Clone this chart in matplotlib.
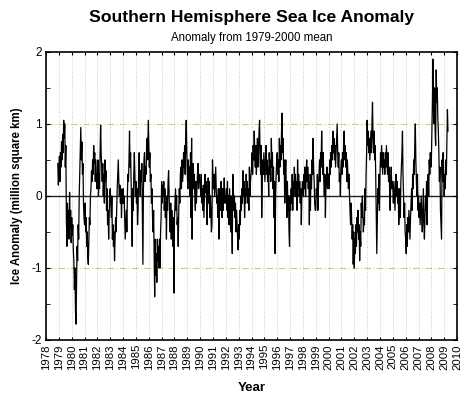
import numpy as np
import matplotlib
matplotlib.use("Agg")
import matplotlib.pyplot as plt

plt.rcParams["font.family"] = ["Liberation Sans", "DejaVu Sans"]

# half-monthly samples, first sample at Dec 1978
start_year = 1978.917
samples_per_year = 24

anomaly = [
    0.45, 0.15,  # 1978
    0.3, 0.55, 0.2, 0.6, 0.4, 0.75, 0.5, 0.85, 0.6, 1.05, 0.8, 1.0, 0.4, 0.7, -0.3, -0.7, -0.1, -0.55, -0.2, -0.6, 0.05, -0.45, -0.2, -0.65,  # 1979
    -0.3, -0.55, -0.4, -0.75, -0.9, -1.3, -1.0, -1.6, -1.78, -1.2, -0.7, -0.9, -0.4, -0.6, 0.0, 0.3, 0.6, 0.95, 0.5, 0.75, 0.3, 0.45, -0.1, -0.3,  # 1980
    -0.4, -0.1, -0.5, -0.3, -0.7, -0.5, -0.85, -0.95, -0.6, -0.3, -0.4, 0.0, 0.1, 0.35, 0.2, 0.5, 0.3, 0.7, 0.45, 0.6, 0.2, 0.5, 0.3, 0.1,  # 1981
    0.2, 0.5, 0.0, 0.3, 0.1, 0.6, 0.98, 0.6, 0.4, 0.2, 0.45, 0.0, 0.3, -0.1, 0.5, 0.2, 0.35, -0.2, 0.1, -0.4, -0.2, -0.6, -0.3, 0.05,  # 1982
    0.1, -0.1, -0.3, 0.0, -0.6, -0.4, -0.7, -0.5, -0.9, -0.6, -0.3, -0.5, -0.2, 0.1, 0.3, 0.5, 0.2, 0.0, 0.15, -0.1, 0.1, -0.3, 0.05, -0.1,  # 1983
    0.1, -0.1, 0.0, -0.3, -0.6, -0.4, -0.2, -0.5, 0.0, 0.3, 0.2, 0.5, 0.9, 0.4, 0.6, 0.2, -0.2, -0.7, 0.1, -0.2, 0.3, 0.6, 0.3, 0.0,  # 1984
    0.2, -0.1, 0.1, -0.4, -0.2, 0.3, 0.6, 0.3, 0.0, 0.35, 0.2, 0.45, -0.3, -0.95, 0.1, 0.5, 0.6, 0.2, 0.4, 0.3, 0.7, 0.8, 0.5, 1.05,  # 1985
    0.7, 0.4, 0.6, 0.2, 0.3, -0.1, 0.1, -0.3, -0.5, -0.2, -0.8, -1.4, -0.6, -1.1, -0.8, -1.2, -0.6, -0.9, -0.7, -1.0, -0.6, -1.0, -0.5, -0.3,  # 1986
    0.2, -0.1, 0.15, 0.0, 0.2, -0.2, 0.1, -0.3, -0.1, -0.6, 0.0, -0.2, 0.2, 0.35, 0.0, -0.3, -0.5, -0.1, -0.6, -0.2, -0.5, -0.7, -0.3, -1.35,  # 1987
    -0.3, -0.1, 0.1, -0.2, 0.0, -0.4, -0.3, -0.7, -0.2, 0.1, -0.1, 0.3, 0.4, 0.1, 0.5, 0.2, 0.3, 0.6, 0.4, 0.7, 0.3, 0.8, 1.05, 0.6,  # 1988
    0.3, 0.1, 0.5, 0.2, 0.4, 0.0, 0.6, -0.3, 0.8, -0.6, 0.3, 0.45, 0.1, 0.3, 0.0, -0.2, 0.2, -0.1, 0.1, 0.3, 0.45, 0.1, 0.3, 0.2,  # 1989
    0.2, 0.0, 0.3, -0.1, 0.1, -0.2, 0.15, -0.3, 0.0, 0.3, 0.05, 0.2, -0.1, -0.4, 0.0, 0.25, -0.1, 0.2, -0.3, 0.0, -0.2, -0.5, -0.4, 0.5,  # 1990
    0.2, 0.1, 0.3, 0.0, 0.2, 0.4, 0.1, -0.1, 0.0, -0.3, 0.1, -0.6, 0.0, 0.1, -0.2, 0.2, 0.0, -0.3, 0.1, -0.2, 0.0, 0.25, -0.1, 0.0,  # 1991
    -0.1, 0.1, -0.2, 0.2, -0.3, 0.0, -0.4, 0.1, -0.2, -0.5, 0.0, -0.3, -0.8, 0.3, 0.1, -0.2, 0.0, -0.3, -0.1, -0.5, -0.2, -0.4, -0.6, -0.75,  # 1992
    -0.4, -0.6, -0.2, -0.4, 0.0, -0.2, 0.1, -0.1, 0.35, 0.0, 0.2, -0.3, 0.1, -0.1, 0.3, 0.0, 0.2, -0.1, 0.1, -0.2, 0.4, 0.0, 0.2, 0.3,  # 1993
    0.4, 0.6, 0.3, 0.7, 0.5, 0.9, 0.6, 0.4, 0.7, 0.3, 0.5, 0.8, 0.4, 0.6, 0.9, 1.05, 0.5, 0.3, 0.7, -0.3, 0.2, 0.5, 0.3, 0.6,  # 1994
    0.4, 0.2, 0.5, 0.7, 0.3, 0.5, 0.2, 0.4, 0.0, 0.6, 0.3, 0.5, 0.2, 0.8, 0.4, 0.6, 0.1, 0.4, -0.3, 0.2, -0.8, 0.0, 0.3, 0.5,  # 1995
    0.6, 0.3, 0.5, 0.2, 0.8, 0.4, 0.7, 0.5, 0.9, 1.15, 0.6, 0.8, 0.3, 0.5, -0.1, 0.3, 0.5, 0.1, -0.3, 0.2, -0.2, 0.0, -0.5, -0.7,  # 1996
    0.0, -0.2, 0.1, -0.1, 0.3, -0.2, 0.2, 0.0, 0.4, 0.1, 0.3, 0.0, 0.2, -0.2, 0.5, 0.1, 0.3, 0.0, 0.2, -0.1, 0.1, -0.4, 0.0, 0.2,  # 1997
    0.2, 0.0, 0.3, 0.1, 0.4, 0.0, 0.3, 0.5, 0.2, 0.4, 0.1, 0.3, -0.4, 0.2, -0.2, 0.3, 0.1, 0.5, 0.3, 0.8, 0.4, 0.2, -0.1, -0.2,  # 1998
    -0.2, 0.1, 0.0, 0.3, -0.2, 0.1, 0.3, 0.5, 0.2, 0.6, 0.4, 0.9, 0.5, 0.3, 0.6, 0.2, 0.0, 0.3, -0.3, 0.1, 0.2, 0.4, 0.1, 0.3,  # 1999
    0.3, 0.1, 0.5, 0.3, 0.6, 0.4, 0.7, 0.5, 0.9, 0.6, 0.8, 0.5, 0.7, 0.4, 0.6, 0.8, 1.0, 0.6, 0.4, 0.6, 0.2, 0.3, 0.0, 0.4,  # 2000
    0.5, 0.3, 0.6, 0.4, 0.7, 0.9, 0.5, 0.7, 0.4, 0.6, 0.2, 0.5, 0.3, 0.1, 0.3, 0.0, -0.2, -0.4, -0.1, -0.3, -0.6, -0.4, -0.95, -0.5,  # 2001
    -1.0, -0.6, -0.8, -0.4, -0.7, -0.3, -0.5, -0.2, -0.6, -0.4, -0.9, -0.5, -0.7, -0.1, -0.3, 0.0, -0.2, -0.5, -0.3, -0.4, 0.1, -0.2, 0.3, 0.6,  # 2002
    1.05, 0.7, 0.9, 0.6, 0.8, 0.5, 0.7, 0.9, 0.6, 1.0, 1.3, 0.8, 0.6, 0.9, 0.5, 0.7, 0.3, -0.2, -0.8, -0.3, 0.1, -0.1, 0.3, -0.2,  # 2003
    0.3, 0.6, 0.4, 0.7, 0.5, 0.3, 0.6, 0.4, 0.5, 0.3, 0.6, 0.4, 0.7, 0.5, 0.3, 0.6, 0.2, 0.4, 0.1, -0.2, 0.2, 0.4, 0.1, 0.2,  # 2004
    0.1, -0.1, 0.2, 0.0, -0.2, 0.1, 0.3, 0.0, 0.2, -0.1, 0.1, -0.4, -0.2, 0.1, -0.3, 0.2, 0.4, 0.6, 0.9, 0.3, 0.0, -0.3, -0.1, -0.5,  # 2005
    -0.6, -0.8, -0.4, -0.7, -0.3, -0.5, -0.2, -0.4, -0.6, -0.3, -0.1, 0.1, -0.2, 0.3, 0.1, 0.5, 0.3, 0.7, 1.0, 0.5, 0.2, 0.0, 0.3, -0.2,  # 2006
    0.0, -0.3, -0.1, -0.4, -0.2, 0.0, -0.3, -0.5, -0.2, 0.1, -0.4, -0.6, -0.3, 0.0, -0.2, 0.2, -0.4, 0.1, 0.3, 0.0, 0.5, 0.3, 0.6, 0.4,  # 2007
    0.5, 0.9, 1.3, 1.9, 1.2, 1.0, 1.5, 0.9, 0.7, 1.75, 1.3, 1.5, 1.1, 0.9, 0.6, 0.2, 0.4, -0.2, -0.4, -0.6, 0.5, 0.2, 0.6, 0.3,  # 2008
    0.0, 0.3, 0.1, 0.5, 0.3, 0.8, 1.2, 0.9,  # 2009
]

year_ticks = list(range(1978, 2011))
y_ticks = [-2, -1, 0, 1, 2]

t = start_year + np.arange(len(anomaly)) / samples_per_year

fig = plt.figure(figsize=(4.73, 3.99), dpi=100)
ax = fig.add_axes([0.0973, 0.148, 0.869, 0.722])

for yr in year_ticks[1:-1]:
    ax.axvline(yr, color="#bbbbbb", lw=0.6, ls=(0, (1, 2)), zorder=0)
for lvl in (-1, 1):
    ax.axhline(lvl, color="#d8cc6a", lw=0.8, ls=(0, (6, 2, 1, 2)), zorder=0)
ax.axhline(0, color="#222222", lw=1.0, zorder=1)

ax.plot(t, anomaly, color="black", lw=0.9, zorder=2)

ax.set_xlim(1978, 2010)
ax.set_ylim(-2, 2)
ax.set_xticks(year_ticks)
ax.set_xticklabels([str(y) for y in year_ticks], rotation=90, fontsize=8.2)
ax.set_yticks(y_ticks)
ax.set_yticklabels([str(v) for v in y_ticks], fontsize=8.5)
ax.set_yticks(np.arange(-1.5, 2, 1.0), minor=True)
ax.tick_params(axis="both", which="both", direction="in", top=True, right=True, length=3, pad=3)
ax.tick_params(axis="x", length=2)
for s in ax.spines.values():
    s.set_linewidth(1.2)

ax.set_xlabel("Year", fontsize=9.5, fontweight="bold", labelpad=9)
ax.set_ylabel("Ice Anomaly (million square km)", fontsize=8.3, fontweight="bold", labelpad=6)

fig.text(0.532, 0.955, "Southern Hemisphere Sea Ice Anomaly", ha="center", va="center",
         fontsize=12.6, fontweight="bold")
fig.text(0.532, 0.905, "Anomaly from 1979-2000 mean", ha="center", va="center", fontsize=8.3)

fig.savefig("out.png", dpi=100)
